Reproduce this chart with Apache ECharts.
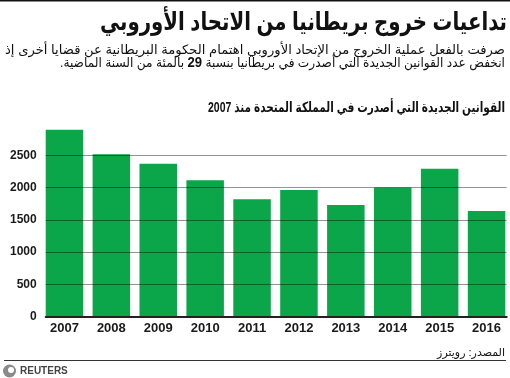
<!DOCTYPE html>
<html><head><meta charset="utf-8">
<script src="https://cdn.jsdelivr.net/npm/echarts@6/dist/echarts.min.js"></script>
<style>html,body{margin:0;padding:0;background:#fff}#c{width:510px;height:378px;direction:rtl}</style>
</head><body><div id="c"></div>
<script>
// ---- data ----
const years = ['2007','2008','2009','2010','2011','2012','2013','2014','2015','2016'];
const newLaws = [2900, 2520, 2370, 2115, 1820, 1965, 1730, 2005, 2295, 1640];
const yMin = 0, yMax = 3000, yInterval = 500;
const titleText = 'تداعيات خروج بريطانيا من الاتحاد الأوروبي';
const subLine1 = 'صرفت بالفعل عملية الخروج من الإتحاد الأوروبي اهتمام الحكومة البريطانية عن قضايا أخرى إذ';
const subLine2a = 'انخفض عدد القوانين الجديدة التي أصدرت في بريطانيا بنسبة';
const subNumber = '29';
const subLine2b = 'بالمئة من السنة الماضية.';
const chartTitle = 'القوانين الجديدة التي أصدرت في المملكة المتحدة منذ 2007';
const sourceText = 'المصدر: رويترز';
const brandText = 'REUTERS';

const rtl = s => '\u202B' + s + '\u202C';
const FF = 'Arial, "Liberation Sans", "DejaVu Sans", sans-serif';
const GREEN = '#0ba54a';

const mctx = document.createElement('canvas').getContext('2d');
function tw(text, font) { mctx.font = font; return mctx.measureText(text).width; }
const fTitle = 'bold 25px ' + FF, fSub = '13px ' + FF, fSubB = 'bold 14px ' + FF, fCT = 'bold 14px ' + FF;
const sTitle = 407 / tw(titleText, fTitle);
const sSub1 = 500 / tw(subLine1, fSub);
const w2 = tw(subLine2a, fSub) + tw(subLine2b, fSub) + 2 * tw(' ', fSub) + tw(subNumber, fSubB);
const sSub2 = 445 / w2;
const sCT = 297 / tw(chartTitle, fCT);

const chart = echarts.init(document.getElementById('c'), null, {renderer: 'canvas'});
chart.setOption({
  animation: false,
  backgroundColor: '#fff',
  grid: [
    {left: 41, right: -1.3, top: 123.3, bottom: 61.5},
    {left: 45.7, right: 3.3, top: 123.3, bottom: 61.5}
  ],
  xAxis: [
    {type: 'category', gridIndex: 0, data: years,
     axisLine: {show: false}, axisTick: {show: false},
     axisLabel: {margin: 5, color: '#1a1a1a', fontFamily: FF, fontWeight: 'bold', fontSize: 13}},
    {type: 'value', gridIndex: 1, min: 0, max: 1, z: 6,
     axisLine: {show: true, onZero: false, lineStyle: {color: '#222', width: 2}},
     axisTick: {show: false}, axisLabel: {show: false}, splitLine: {show: false}}
  ],
  yAxis: [
    {type: 'value', gridIndex: 0, min: yMin, max: yMax, interval: yInterval,
     axisLabel: {show: false}, axisLine: {show: false}, axisTick: {show: false}, splitLine: {show: false}},
    {type: 'value', gridIndex: 1, min: yMin, max: yMax, interval: yInterval, z: 5,
     axisLine: {show: false}, axisTick: {show: false},
     axisLabel: {showMaxLabel: false, margin: 9, color: '#1a1a1a', fontFamily: FF, fontWeight: 'bold', fontSize: 12,
       formatter: v => String(v)},
     splitLine: {show: true, showMinLine: false, showMaxLine: false, lineStyle: {color: 'rgba(0,0,0,0.42)', width: 1}}}
  ],
  series: [{
    type: 'bar', xAxisIndex: 0, yAxisIndex: 0, data: newLaws,
    barWidth: 37.5, itemStyle: {color: GREEN}, z: 2
  }],
  graphic: [
    {type: 'rect', shape: {x: 0, y: 0, width: 510, height: 1.5}, style: {fill: '#111'}},
    {type: 'text', x: 507, y: 23, scaleX: sTitle,
      style: {text: rtl(titleText), x: 0, y: 0, align: 'right', verticalAlign: 'middle', font: fTitle, fill: '#111'}},
    {type: 'text', x: 505, y: 50, scaleX: sSub1,
      style: {text: rtl(subLine1), x: 0, y: 0, align: 'right', verticalAlign: 'middle', font: fSub, fill: '#111'}},
    {type: 'text', x: 505, y: 63, scaleX: sSub2, style: {
      text: '{n|' + rtl(subLine2b) + '} {b|' + subNumber + '} {n|' + rtl(subLine2a) + '}',
      x: 0, y: 0, align: 'right', verticalAlign: 'middle',
      font: fSub, fill: '#111',
      rich: {n: {fontSize: 13, fontFamily: FF, fill: '#111'}, b: {fontSize: 14, fontWeight: 'bold', fontFamily: FF, fill: '#111'}}}},
    {type: 'text', x: 505, y: 108, scaleX: sCT,
      style: {text: rtl(chartTitle), x: 0, y: 0, align: 'right', verticalAlign: 'middle', font: fCT, fill: '#111'}},
    {type: 'text', style: {text: rtl(sourceText), x: 505, y: 353, align: 'right', verticalAlign: 'middle',
      font: '11px ' + FF, fill: '#111'}},
    {type: 'rect', shape: {x: 4, y: 360, width: 502, height: 1}, style: {fill: '#333'}},
    {type: 'circle', shape: {cx: 9.5, cy: 371, r: 6.5}, style: {fill: '#8a8a8a'}},
    {type: 'circle', shape: {cx: 11, cy: 370, r: 3}, style: {fill: '#fff'}},
    {type: 'text', style: {text: brandText, x: 20, y: 371, align: 'left', verticalAlign: 'middle',
      font: 'bold 10px ' + FF, fill: '#444'}}
  ]
});
</script></body></html>
